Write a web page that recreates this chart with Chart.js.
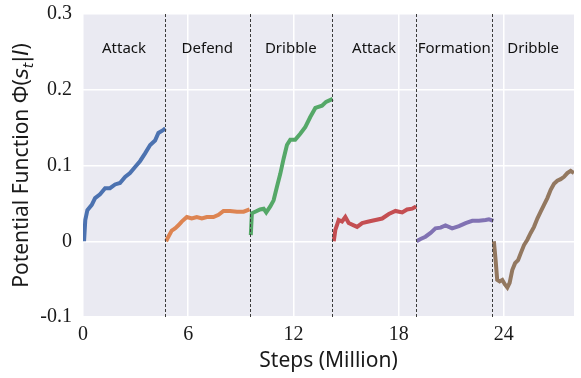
<!DOCTYPE html>
<html>
<head>
<meta charset="utf-8">
<script src="https://cdn.jsdelivr.net/npm/chart.js@4/dist/chart.umd.min.js"></script>
<style>
  body { margin: 0; background: #fff; }
</style>
</head>
<body>
<canvas id="potentialChart" width="581" height="378"></canvas>
<script>
// phase boundaries (million steps) and names
var phaseEdges = [0, 4.68, 9.5, 14.2, 19.0, 23.34, 28];
var phaseNames = ['Attack', 'Defend', 'Dribble', 'Attack', 'Formation', 'Dribble'];

var xTicks = [0, 6, 12, 18, 24];
var yTicks = [-0.1, 0, 0.1, 0.2, 0.3];

// Attack
var attackSteps = [0.06, 0.13, 0.25, 0.5, 0.69, 0.97, 1.26, 1.54, 1.83, 2.11, 2.4, 2.68, 2.97, 3.26, 3.54, 3.83, 4.11, 4.3, 4.59, 4.7];
var attackPhi = [0, 0.028, 0.041, 0.048, 0.057, 0.062, 0.070, 0.070, 0.075, 0.077, 0.085, 0.090, 0.098, 0.106, 0.116, 0.127, 0.133, 0.143, 0.147, 0.149];

// Defend
var defendSteps = [4.74, 4.87, 5.06, 5.25, 5.44, 5.63, 5.92, 6.2, 6.49, 6.78, 7.06, 7.44, 7.73, 8.01, 8.39, 8.78, 9.16, 9.5];
var defendPhi = [0, 0.006, 0.014, 0.017, 0.021, 0.026, 0.032, 0.030, 0.032, 0.030, 0.032, 0.032, 0.035, 0.040, 0.040, 0.039, 0.039, 0.042];

// Dribble
var dribbleSteps = [9.57, 9.63, 9.82, 10.1, 10.3, 10.45, 10.68, 10.87, 11.06, 11.25, 11.44, 11.63, 11.82, 12.1, 12.39, 12.68, 12.96, 13.25, 13.63, 13.86, 14.24];
var dribblePhi = [0.008, 0.037, 0.039, 0.042, 0.043, 0.038, 0.046, 0.054, 0.072, 0.089, 0.109, 0.127, 0.134, 0.134, 0.142, 0.151, 0.164, 0.176, 0.179, 0.184, 0.188];

// Attack (second)
var attack2Steps = [14.3, 14.39, 14.58, 14.77, 14.96, 15.15, 15.44, 15.63, 15.92, 16.29, 16.68, 17.06, 17.44, 17.82, 18.2, 18.48, 18.77, 19.0];
var attack2Phi = [0, 0.015, 0.028, 0.026, 0.032, 0.024, 0.021, 0.019, 0.024, 0.026, 0.028, 0.030, 0.036, 0.040, 0.038, 0.042, 0.043, 0.046];

// Formation
var formationSteps = [19.02, 19.25, 19.53, 19.82, 20.1, 20.39, 20.67, 21.05, 21.44, 21.82, 22.2, 22.58, 22.96, 23.15, 23.4];
var formationPhi = [0, 0.003, 0.006, 0.011, 0.017, 0.018, 0.021, 0.017, 0.020, 0.024, 0.027, 0.027, 0.028, 0.029, 0.027];

// Dribble (second)
var dribble2Steps = [23.43, 23.53, 23.62, 23.76, 23.91, 24.06, 24.2, 24.33, 24.48, 24.64, 24.81, 24.96, 25.15, 25.34, 25.53, 25.72, 25.91, 26.1, 26.29, 26.48, 26.67, 26.86, 27.05, 27.24, 27.43, 27.62, 27.81, 28.0];
var dribble2Phi = [0, -0.025, -0.051, -0.053, -0.051, -0.057, -0.061, -0.055, -0.038, -0.029, -0.025, -0.016, -0.005, 0.002, 0.011, 0.019, 0.030, 0.039, 0.048, 0.057, 0.068, 0.076, 0.080, 0.082, 0.085, 0.090, 0.093, 0.090];

var colors = ['#4C72B0', '#DD8452', '#55A868', '#C44E52', '#8172B3', '#937860'];

function toPoints(xs, ys) {
    return xs.map(function (x, i) { return { x: x, y: ys[i] }; });
}

var series = [
    toPoints(attackSteps, attackPhi),
    toPoints(defendSteps, defendPhi),
    toPoints(dribbleSteps, dribblePhi),
    toPoints(attack2Steps, attack2Phi),
    toPoints(formationSteps, formationPhi),
    toPoints(dribble2Steps, dribble2Phi)
];

var datasets = series.map(function (pts, i) {
    return {
        label: phaseNames[i],
        data: pts,
        borderColor: colors[i],
        borderWidth: 4,
        pointRadius: 0,
        tension: 0,
        fill: false
    };
});

var background = {
    id: 'background',
    beforeDraw: function (chart) {
        var a = chart.chartArea, ctx = chart.ctx;
        ctx.save();
        ctx.fillStyle = '#EAEAF2';
        ctx.fillRect(a.left, a.top, a.right - a.left, a.bottom - a.top);
        ctx.restore();
    }
};

var phases = {
    id: 'phases',
    afterDatasetsDraw: function (chart) {
        var a = chart.chartArea, ctx = chart.ctx;
        var xs = chart.scales.x, ys = chart.scales.y;
        ctx.save();
        ctx.strokeStyle = '#3a3a3a';
        ctx.lineWidth = 1;
        ctx.setLineDash([3, 2]);
        for (var i = 1; i < phaseEdges.length - 1; i++) {
            var px = Math.round(xs.getPixelForValue(phaseEdges[i])) + 0.5;
            ctx.beginPath();
            ctx.moveTo(px, a.top);
            ctx.lineTo(px, a.bottom);
            ctx.stroke();
        }
        ctx.setLineDash([]);
        ctx.fillStyle = '#111111';
        ctx.font = '15px "Noto Sans"';
        ctx.textAlign = 'center';
        ctx.textBaseline = 'middle';
        var ly = ys.getPixelForValue(0.254);
        for (var j = 0; j < phaseNames.length; j++) {
            var mid = (phaseEdges[j] + phaseEdges[j + 1]) / 2;
            ctx.fillText(phaseNames[j], xs.getPixelForValue(mid), ly);
        }
        ctx.restore();
    }
};

// y title with math parts
var yTitle = {
    id: 'yTitle',
    afterDraw: function (chart) {
        var a = chart.chartArea, ctx = chart.ctx;
        var parts = [
            { t: 'Potential Function \u03A6(', f: '21px "Noto Sans"', dy: 0 },
            { t: 's', f: 'italic 21px "DejaVu Sans"', dy: 0 },
            { t: 't', f: 'italic 14px "DejaVu Sans"', dy: 5 },
            { t: '|', f: '21px "DejaVu Sans"', dy: 0 },
            { t: 'I', f: 'italic 21px "DejaVu Sans"', dy: 0 },
            { t: ')', f: '21px "Noto Sans"', dy: 0 }
        ];
        ctx.save();
        var total = 0;
        parts.forEach(function (p) { ctx.font = p.f; p.w = ctx.measureText(p.t).width; total += p.w; });
        ctx.translate(20, (a.top + a.bottom) / 2);
        ctx.rotate(-Math.PI / 2);
        ctx.fillStyle = '#1a1a1a';
        ctx.textBaseline = 'alphabetic';
        var x = -total / 2;
        parts.forEach(function (p) {
            ctx.font = p.f;
            ctx.fillText(p.t, x, 8 + p.dy);
            x += p.w;
        });
        ctx.restore();
    }
};

new Chart(document.getElementById('potentialChart'), {
    type: 'line',
    data: { datasets: datasets },
    plugins: [background, phases, yTitle],
    options: {
        responsive: false,
        animation: false,
        devicePixelRatio: 1,
        layout: { padding: { top: 14, right: 7, left: 0, bottom: 0 } },
        plugins: { legend: { display: false }, tooltip: { enabled: false } },
        scales: {
            x: {
                type: 'linear',
                min: 0,
                max: 28,
                afterBuildTicks: function (scale) {
                    scale.ticks = xTicks.map(function (v) { return { value: v }; });
                },
                afterFit: function (scale) { scale.height = 61; },
                border: { display: false },
                grid: { color: '#ffffff', lineWidth: 1.5, drawTicks: false },
                ticks: {
                    padding: 6,
                    color: '#1a1a1a',
                    font: { family: '"Liberation Serif"', size: 20 },
                    callback: function (v) { return String(v); }
                },
                title: {
                    display: true,
                    text: 'Steps (Million)',
                    color: '#1a1a1a',
                    font: { family: '"Noto Sans"', size: 21 },
                    padding: { top: 0, bottom: 4 }
                }
            },
            y: {
                min: -0.1,
                max: 0.3,
                afterBuildTicks: function (scale) {
                    scale.ticks = yTicks.map(function (v) { return { value: v }; });
                },
                afterFit: function (scale) {
                    scale.width = 83;
                    scale.paddingTop = 0;
                    scale.paddingBottom = 0;
                },
                border: { display: false },
                grid: { color: '#ffffff', lineWidth: 1.5, drawTicks: false },
                ticks: {
                    padding: 11,
                    color: '#1a1a1a',
                    font: { family: '"Liberation Serif"', size: 20 },
                    callback: function (v) { return String(Number(v.toFixed(1))); }
                }
            }
        }
    }
});
</script>
</body>
</html>
